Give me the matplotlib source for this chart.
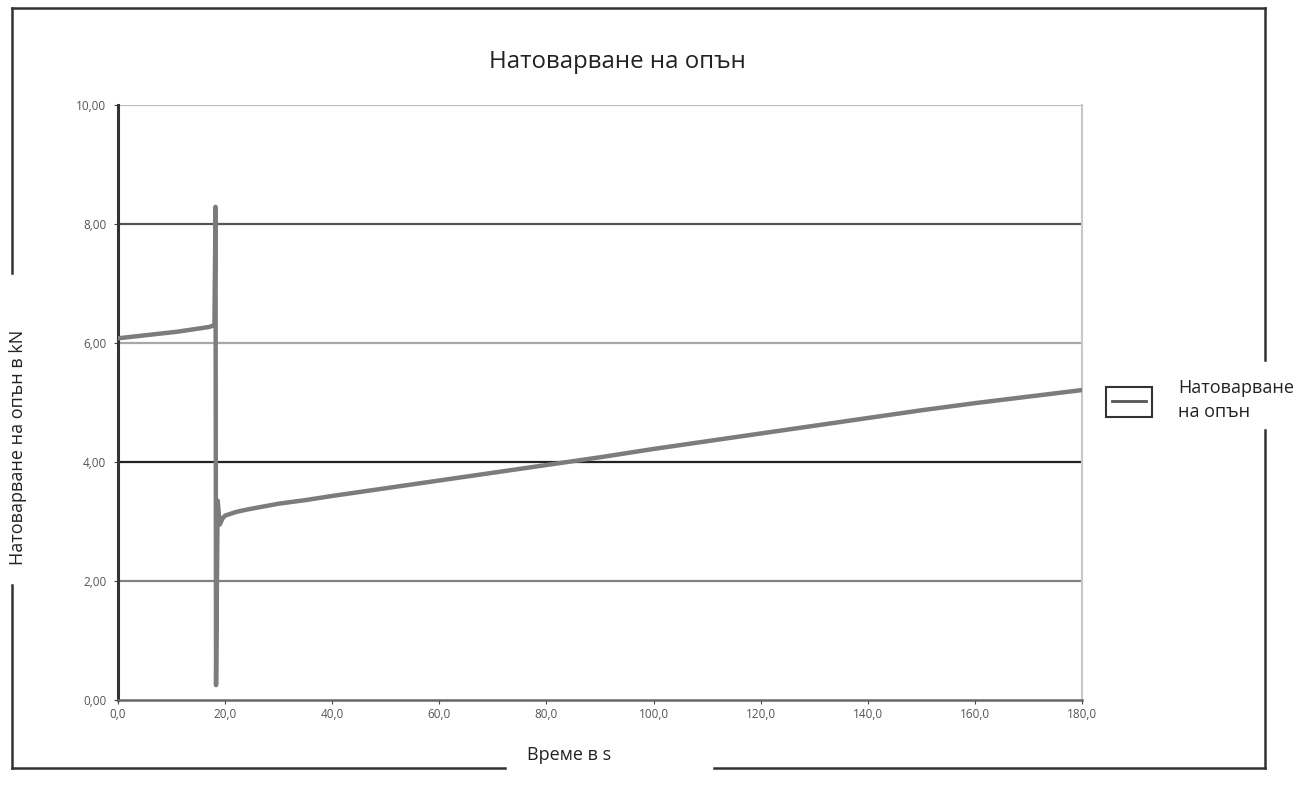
import matplotlib.pyplot as plt
from matplotlib.lines import Line2D
from matplotlib.patches import Rectangle

# Tension load over time
time_s = [0, 2, 5, 8, 11, 14, 17, 18.0, 18.2, 18.3, 18.6, 19, 19.5, 20, 21, 22,
          24, 27, 30, 35, 40, 50, 60, 70, 80, 90, 100, 110, 120, 130, 140, 150, 160, 170, 180]
load_kn = [6.08, 6.10, 6.13, 6.16, 6.19, 6.23, 6.27, 6.30, 8.29, 0.25, 3.35, 2.95, 3.05, 3.10, 3.13,
           3.16, 3.20, 3.25, 3.30, 3.36, 3.43, 3.56, 3.69, 3.82, 3.95, 4.08, 4.22, 4.35, 4.48, 4.61, 4.74, 4.87, 4.99, 5.10, 5.21]

y_ticks = [0, 2, 4, 6, 8, 10]
x_ticks = [0, 20, 40, 60, 80, 100, 120, 140, 160, 180]

title = "Натоварване на опън"
series_name = "Натоварване\nна опън"

plt.rcParams['font.family'] = ['Open Sans', 'DejaVu Sans']

fig = plt.figure(figsize=(13.13, 7.85), dpi=100)
ax = fig.add_axes([0.0899, 0.1083, 0.7342, 0.7578])

# gridlines - scanned look, each a different shade
grid_cols = {2: '#808080', 4: '#222222', 6: '#a8a8a8', 8: '#555555', 10: '#bdbdbd'}
for yv, c in grid_cols.items():
    ax.axhline(yv, color=c, lw=1.6, zorder=1)

line, = ax.plot(time_s, load_kn, color='#7c7c7c', lw=3.2, zorder=3, label=series_name)

ax.set_xlim(0, 180)
ax.set_ylim(0, 10)
ax.set_xticks(x_ticks)
ax.set_yticks(y_ticks)
ax.set_xticklabels([f"{v:.1f}".replace('.', ',') for v in x_ticks], fontsize=8.5, color='#555555')
ax.set_yticklabels([f"{v:.2f}".replace('.', ',') for v in y_ticks], fontsize=8.5, color='#555555')
ax.tick_params(axis='y', direction='out', length=3, color='#444444', pad=5.5)
ax.tick_params(axis='x', direction='out', length=3, color='#444444', pad=2.5)

ax.spines['left'].set_color('#333333')
ax.spines['left'].set_linewidth(2.2)
ax.spines['bottom'].set_color('#666666')
ax.spines['bottom'].set_linewidth(1.8)
ax.spines['top'].set_visible(False)
ax.spines['right'].set_color('#c8c8c8')
ax.spines['right'].set_linewidth(1.5)

fig.text(617 / 1313, 1 - 62 / 785, title, fontsize=17.3, ha='center', va='center', color='#222222')
fig.text(18 / 1313, 1 - 447 / 785, "Натоварване на опън в kN", rotation=90, fontsize=13,
         ha='center', va='center', color='#222222')
fig.text(569 / 1313, 1 - 755 / 785, "Време в s", fontsize=13, ha='center', va='center', color='#222222')

leg = fig.legend(handles=[line], labels=[series_name], loc='center left',
                 bbox_to_anchor=(1096 / 1313, 1 - 400 / 785), frameon=False, fontsize=13,
                 handlelength=1.88, handletextpad=1.77)
for t in leg.get_texts():
    t.set_color('#222222')
    t.set_linespacing(1.45)
leg.get_lines()[0].set_linewidth(2)
leg.get_lines()[0].set_color('#555555')

W, H = 1313, 785
# box around the legend key, as in the original Excel export
fig.add_artist(Rectangle((1106 / W, 1 - 417 / H), 46 / W, 30 / H, fill=False,
                         ec='#333333', lw=1.5, transform=fig.transFigure))

# outer chart-area border, broken around the labels like the original
def seg(x0, y0, x1, y1):
    fig.add_artist(Line2D([x0 / W, x1 / W], [1 - y0 / H, 1 - y1 / H],
                          color='#333333', lw=1.8, transform=fig.transFigure))

seg(12, 8, 1265, 8)
seg(12, 8, 12, 273)
seg(12, 585, 12, 768)
seg(12, 768, 505, 768)
seg(714, 768, 1265, 768)
seg(1265, 8, 1265, 360)
seg(1265, 430, 1265, 768)

fig.savefig("out.png", dpi=100)
